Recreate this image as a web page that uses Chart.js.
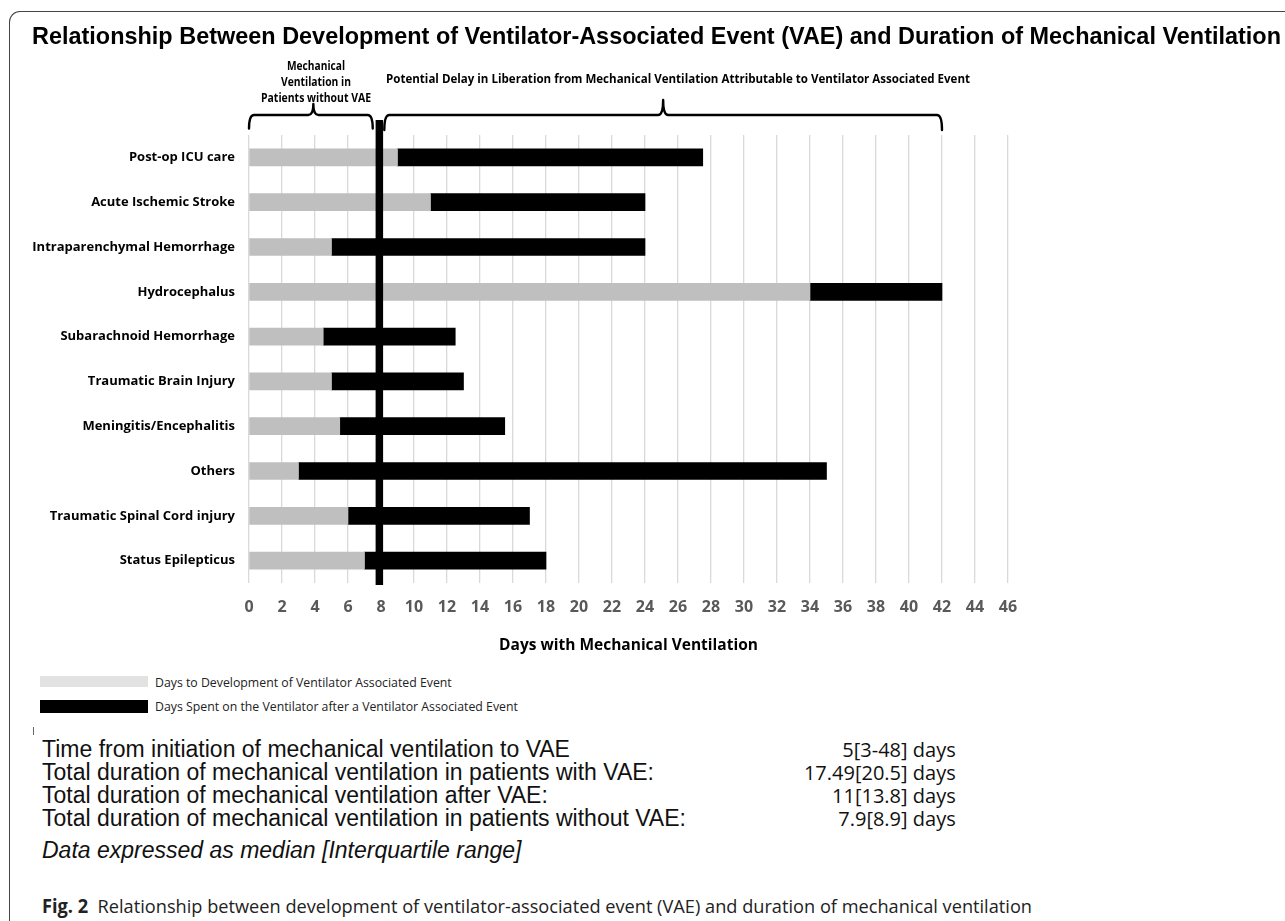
<!DOCTYPE html>
<html><head><meta charset="utf-8">
<script src="https://cdn.jsdelivr.net/npm/chart.js@4.4.1/dist/chart.umd.min.js"></script>
<style>
body{margin:0;background:#fff;}
#page{position:relative;width:1285px;height:921px;overflow:hidden;background:#fff;}
.abs{position:absolute;white-space:nowrap;line-height:1;}
</style></head><body>
<div id="page">
  <div class="abs" style="left:9px;top:11px;width:1400px;height:1100px;border-top:1.5px solid #444;border-left:1.5px solid #444;border-top-left-radius:11px;box-sizing:border-box;"></div>
  <div class="abs" style="left:0;top:0;width:1285px;height:660px;"><canvas id="c"></canvas></div>
</div>
<script>
// ---------------- data ----------------
const CATEGORIES = ['Post-op ICU care','Acute Ischemic Stroke','Intraparenchymal Hemorrhage','Hydrocephalus','Subarachnoid Hemorrhage','Traumatic Brain Injury','Meningitis/Encephalitis','Others','Traumatic Spinal Cord injury','Status Epilepticus'];
const DAYS_TO_VAE    = [9, 11, 5, 34, 4.5, 5, 5.5, 3, 6, 7];
const DAYS_AFTER_VAE = [18.5, 13, 19, 8, 8, 8, 10, 32, 11, 11];
const SERIES_NAMES = ['Days to Development of Ventilator Associated Event','Days Spent on the Ventilator after a Ventilator Associated Event'];
const X_MIN = 0, X_MAX = 46, X_STEP = 2;
const MEDIAN_NO_VAE = 7.9;
// brace ranges: [start, end, tip] in days
const BRACES = [[0, 7.5, 3.9], [8.2, 42, 25.1]];
const BRACE_LEFT_LINES = ['Mechanical','Ventilation in','Patients without VAE'];
const BRACE_RIGHT_TEXT = 'Potential Delay in Liberation from Mechanical Ventilation Attributable to Ventilator Associated Event';
const TITLE = 'Relationship Between Development of Ventilator-Associated Event (VAE) and Duration of Mechanical Ventilation';
const X_TITLE = 'Days with Mechanical Ventilation';
const STAT_LABELS = ['Time from initiation of mechanical ventilation to VAE','Total duration of mechanical ventilation in patients with VAE:','Total duration of mechanical ventilation after VAE:','Total duration of mechanical ventilation in patients without VAE:'];
const STAT_VALUES = ['5[3-48] days','17.49[20.5] days','11[13.8] days','7.9[8.9] days'];
const NOTE = 'Data expressed as median [Interquartile range]';
const CAPTION_LEAD = 'Fig. 2';
const CAPTION = 'Relationship between development of ventilator-associated event (VAE) and duration of mechanical ventilation';

// ---------------- text helpers ----------------
const page = document.getElementById('page');
function put(html, o){
  const d = document.createElement('div');
  d.className = 'abs';
  d.style.font = o.font;
  d.style.color = o.color || '#000';
  d.innerHTML = html;
  page.appendChild(d);
  const r = d.getBoundingClientRect();
  const s = o.w ? o.w / r.width : 1;
  d.style.transformOrigin = '0 0';
  d.style.transform = 'scaleX(' + s + ')';
  let left = o.x;
  if (o.align === 'center') left = o.x - r.width * s / 2;
  if (o.align === 'right') left = o.x - r.width * s;
  d.style.left = left + 'px';
  d.style.top = (o.y - r.height / 2) + 'px';
  return d;
}
function box(x, y, w, h, c){
  const d = document.createElement('div');
  d.className = 'abs';
  Object.assign(d.style, {left:x+'px', top:y+'px', width:w+'px', height:h+'px', background:c});
  page.appendChild(d);
}

// title
put(TITLE, {font:'bold 24px "Liberation Sans", Arial, sans-serif', x:32, y:35.5, w:1249});
// brace annotations
const bw = [58, 70, 110];
BRACE_LEFT_LINES.forEach((t,i)=>put(t, {font:'bold 11.5px "Open Sans", sans-serif', x:316, y:65 + i*16, w:bw[i], align:'center'}));
put(BRACE_RIGHT_TEXT, {font:'bold 11.5px "Open Sans", sans-serif', x:386, y:78.3, w:584});

// legend
box(40, 676, 108, 11, '#e2e2e2');
box(40, 700, 108, 12.5, '#000');
put(SERIES_NAMES[0], {font:'12.3px "Open Sans", sans-serif', color:'#222', x:155, y:682});
put(SERIES_NAMES[1], {font:'12.3px "Open Sans", sans-serif', color:'#222', x:155, y:706});
box(33, 727, 1, 8, '#666');

// stats
STAT_LABELS.forEach((t,i)=>put(t, {font:'23px "Liberation Sans", Arial, sans-serif', color:'#111', x:42, y:749 + i*23.2}));
STAT_VALUES.forEach((t,i)=>put(t, {font:'20px "Open Sans", sans-serif', color:'#111', x:955.7, y:749 + i*23.2, align:'right'}));
put(NOTE, {font:'italic 23px "Liberation Sans", Arial, sans-serif', color:'#111', x:42, y:850});
put('<b>' + CAPTION_LEAD + '</b>&nbsp; ' + CAPTION, {font:'19px "Open Sans", sans-serif', color:'#222', x:42, y:906, w:990});

// ---------------- chart ----------------
const overlay = {
  id:'overlay',
  afterDatasetsDraw(chart){
    const {ctx, chartArea:a, scales:{x}} = chart;
    ctx.save();
    const mx = x.getPixelForValue(MEDIAN_NO_VAE);
    ctx.fillStyle = '#000';
    ctx.fillRect(mx - 3.75, a.top - 15, 7.5, a.bottom - a.top + 17);
    ctx.strokeStyle = '#000'; ctx.lineWidth = 2.4; ctx.lineJoin = 'round'; ctx.lineCap = 'round';
    BRACES.forEach(([s,e,t], i)=>{
      const x1 = x.getPixelForValue(s), x2 = x.getPixelForValue(e), xt = x.getPixelForValue(t);
      const yl = a.top - 20, ye = a.top - (i ? 5 : 6.5), yt = a.top - (i ? 35 : 31);
      ctx.beginPath();
      ctx.moveTo(x1, ye);
      ctx.quadraticCurveTo(x1, yl, x1 + 5, yl);
      ctx.lineTo(xt - 5, yl);
      ctx.quadraticCurveTo(xt, yl, xt, yt);
      ctx.quadraticCurveTo(xt, yl, xt + 5, yl);
      ctx.lineTo(x2 - 5, yl);
      ctx.quadraticCurveTo(x2, yl, x2, ye);
      ctx.stroke();
    });
    ctx.restore();
  }
};

new Chart(document.getElementById('c'), {
  type:'bar',
  data:{
    labels: CATEGORIES,
    datasets:[
      {label:SERIES_NAMES[0], data:DAYS_TO_VAE, backgroundColor:'#bfbfbf', barThickness:17},
      {label:SERIES_NAMES[1], data:DAYS_AFTER_VAE, backgroundColor:'#000', barThickness:17}
    ]
  },
  options:{
    indexAxis:'y',
    responsive:true, maintainAspectRatio:false, animation:false, devicePixelRatio:1,
    layout:{padding:{top:135, right:277, left:0, bottom:0}},
    plugins:{legend:{display:false}, tooltip:{enabled:false}},
    scales:{
      x:{
        stacked:true, min:X_MIN, max:X_MAX,
        grid:{color:'#d9d9d9', lineWidth:1.3, drawTicks:false},
        border:{display:false},
        ticks:{stepSize:X_STEP, autoSkip:false, padding:15, color:'#595959', font:{family:'"Open Sans", sans-serif', weight:'bold', size:16}},
        title:{display:true, text:X_TITLE, color:'#000', padding:{top:0, bottom:5}, font:{family:'"Open Sans", sans-serif', weight:'bold', size:15.5}},
        afterFit(s){ s.height = 77; }
      },
      y:{
        stacked:true,
        grid:{display:false, drawTicks:false},
        border:{display:false},
        ticks:{autoSkip:false, padding:14, color:'#000', font:{family:'"Open Sans", sans-serif', weight:'bold', size:13}},
        afterFit(s){ s.width = 249; }
      }
    }
  },
  plugins:[overlay]
});
</script>
</body></html>
